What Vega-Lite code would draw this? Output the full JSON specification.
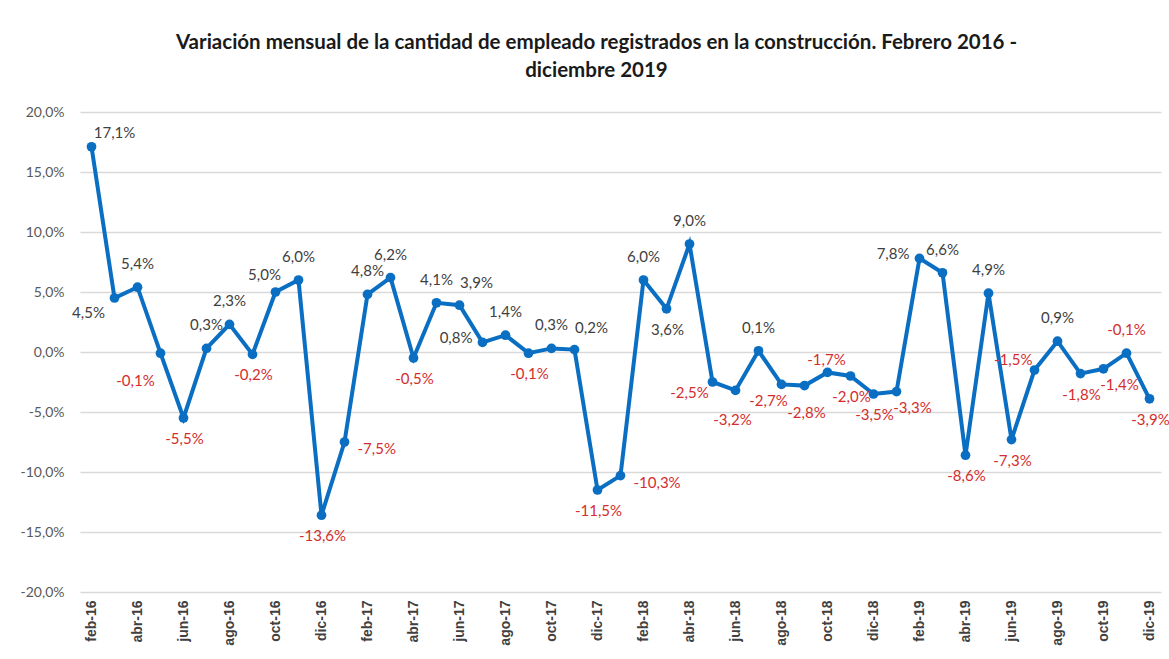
{
  "$schema": "https://vega.github.io/schema/vega-lite/v6.json",
  "width": 1081,
  "height": 480,
  "autosize": "none",
  "padding": {"left": 80, "top": 112, "right": 8, "bottom": 67},
  "background": "white",
  "config": {
    "view": {"stroke": null},
    "locale": {"number": {"decimal": ",", "thousands": ".", "grouping": [3], "currency": ["", " €"], "minus": "-"}}
  },
  "title": {
    "text": ["Variación mensual de la cantidad de empleado registrados en la construcción. Febrero 2016 -", "diciembre 2019"],
    "font": "Lato",
    "fontSize": 20.5,
    "fontWeight": "bold",
    "color": "#1a1a1a",
    "anchor": "middle",
    "dx": -24,
    "offset": 24,
    "lineHeight": 28
  },
  "data": {
    "values": [
      {"mes": "feb-16", "v": 0.171},
      {"mes": "mar-16", "v": 0.045},
      {"mes": "abr-16", "v": 0.054},
      {"mes": "may-16", "v": -0.001},
      {"mes": "jun-16", "v": -0.055},
      {"mes": "jul-16", "v": 0.003},
      {"mes": "ago-16", "v": 0.023},
      {"mes": "sep-16", "v": -0.002},
      {"mes": "oct-16", "v": 0.050},
      {"mes": "nov-16", "v": 0.060},
      {"mes": "dic-16", "v": -0.136},
      {"mes": "ene-17", "v": -0.075},
      {"mes": "feb-17", "v": 0.048},
      {"mes": "mar-17", "v": 0.062},
      {"mes": "abr-17", "v": -0.005},
      {"mes": "may-17", "v": 0.041},
      {"mes": "jun-17", "v": 0.039},
      {"mes": "jul-17", "v": 0.008},
      {"mes": "ago-17", "v": 0.014},
      {"mes": "sep-17", "v": -0.001},
      {"mes": "oct-17", "v": 0.003},
      {"mes": "nov-17", "v": 0.002},
      {"mes": "dic-17", "v": -0.115},
      {"mes": "ene-18", "v": -0.103},
      {"mes": "feb-18", "v": 0.060},
      {"mes": "mar-18", "v": 0.036},
      {"mes": "abr-18", "v": 0.090},
      {"mes": "may-18", "v": -0.025},
      {"mes": "jun-18", "v": -0.032},
      {"mes": "jul-18", "v": 0.001},
      {"mes": "ago-18", "v": -0.027},
      {"mes": "sep-18", "v": -0.028},
      {"mes": "oct-18", "v": -0.017},
      {"mes": "nov-18", "v": -0.020},
      {"mes": "dic-18", "v": -0.035},
      {"mes": "ene-19", "v": -0.033},
      {"mes": "feb-19", "v": 0.078},
      {"mes": "mar-19", "v": 0.066},
      {"mes": "abr-19", "v": -0.086},
      {"mes": "may-19", "v": 0.049},
      {"mes": "jun-19", "v": -0.073},
      {"mes": "jul-19", "v": -0.015},
      {"mes": "ago-19", "v": 0.009},
      {"mes": "sep-19", "v": -0.018},
      {"mes": "oct-19", "v": -0.014},
      {"mes": "nov-19", "v": -0.001},
      {"mes": "dic-19", "v": -0.039}
    ]
  },
  "encoding": {
    "x": {
      "field": "mes",
      "type": "ordinal",
      "sort": null,
      "scale": {"type": "point", "padding": 0.5},
      "axis": {
        "title": null,
        "values": ["feb-16","abr-16","jun-16","ago-16","oct-16","dic-16","feb-17","abr-17","jun-17","ago-17","oct-17","dic-17","feb-18","abr-18","jun-18","ago-18","oct-18","dic-18","feb-19","abr-19","jun-19","ago-19","oct-19","dic-19"],
        "labelAngle": -90,
        "labelAlign": "right",
        "labelBaseline": "middle",
        "labelFont": "Liberation Sans",
        "labelFontWeight": "bold",
        "labelFontSize": 14,
        "labelColor": "#404040",
        "labelPadding": 8,
        "domain": false,
        "ticks": false,
        "grid": false
      }
    },
    "y": {
      "field": "v",
      "type": "quantitative",
      "scale": {"domain": [-0.2, 0.2], "nice": false},
      "axis": {
        "title": null,
        "values": [-0.2, -0.15, -0.1, -0.05, 0, 0.05, 0.1, 0.15, 0.2],
        "format": ".1%",
        "labelFont": "Lato",
        "labelFontSize": 14,
        "labelColor": "#595959",
        "labelPadding": 16,
        "domain": false,
        "ticks": false,
        "grid": true,
        "gridColor": "#d9d9d9",
        "gridWidth": 1.5
      }
    }
  },
  "layer": [
    {"mark": {"type": "rule", "color": "#a6a6a6", "strokeWidth": 2}, "encoding": {"y": {"datum": 0}, "x": {"value": 11}}},
    {"mark": {"type": "line", "color": "#0a6fc2", "strokeWidth": 4, "point": {"filled": true, "size": 95, "color": "#0a6fc2", "opacity": 1}}},
    {
      "encoding": {
        "text": {"field": "v", "type": "quantitative", "format": ".1%"},
        "color": {"condition": {"test": "datum.v < 0", "value": "#d42d2d"}, "value": "#404040"}
      },
      "layer": [
        {"transform": [{"filter": {"field": "mes", "oneOf": ["abr-16","jul-16","ago-16","nov-16","feb-17","mar-17","may-17","ago-17","oct-17","feb-18","abr-18","jul-18","mar-19","may-19","ago-19","nov-19"]}}],
         "mark": {"type": "text", "font": "Lato", "fontSize": 15, "baseline": "middle", "align": "center", "dx": 0, "dy": -23}},
        {"transform": [{"filter": {"field": "mes", "oneOf": ["jun-16","sep-16","dic-16","abr-17","sep-17","dic-17","mar-18","nov-18","dic-18","abr-19","jun-19","sep-19","dic-19"]}}],
         "mark": {"type": "text", "font": "Lato", "fontSize": 15, "baseline": "middle", "align": "center", "dx": 1, "dy": 21}},
        {"transform": [{"filter": {"field": "mes", "oneOf": ["jun-18"]}}],
         "mark": {"type": "text", "font": "Lato", "fontSize": 15, "baseline": "middle", "align": "center", "dx": -3, "dy": 30}},
        {"transform": [{"filter": {"field": "mes", "oneOf": ["sep-18"]}}],
         "mark": {"type": "text", "font": "Lato", "fontSize": 15, "baseline": "middle", "align": "center", "dx": 2, "dy": 27}},
        {"transform": [{"filter": {"field": "mes", "oneOf": ["jun-17","nov-17"]}}],
         "mark": {"type": "text", "font": "Lato", "fontSize": 15, "baseline": "middle", "align": "center", "dx": 17, "dy": -22}},
        {"transform": [{"filter": {"field": "mes", "oneOf": ["feb-16"]}}],
         "mark": {"type": "text", "font": "Lato", "fontSize": 15, "baseline": "middle", "align": "center", "dx": 23, "dy": -14}},
        {"transform": [{"filter": {"field": "mes", "oneOf": ["mar-16"]}}],
         "mark": {"type": "text", "font": "Lato", "fontSize": 15, "baseline": "middle", "align": "center", "dx": -26, "dy": 15}},
        {"transform": [{"filter": {"field": "mes", "oneOf": ["may-18"]}}],
         "mark": {"type": "text", "font": "Lato", "fontSize": 15, "baseline": "middle", "align": "center", "dx": -23, "dy": 11}},
        {"transform": [{"filter": {"field": "mes", "oneOf": ["may-16"]}}],
         "mark": {"type": "text", "font": "Lato", "fontSize": 15, "baseline": "middle", "align": "center", "dx": -25, "dy": 28}},
        {"transform": [{"filter": {"field": "mes", "oneOf": ["oct-16"]}}],
         "mark": {"type": "text", "font": "Lato", "fontSize": 15, "baseline": "middle", "align": "center", "dx": -11, "dy": -17}},
        {"transform": [{"filter": {"field": "mes", "oneOf": ["oct-18"]}}],
         "mark": {"type": "text", "font": "Lato", "fontSize": 15, "baseline": "middle", "align": "center", "dx": -1, "dy": -12}},
        {"transform": [{"filter": {"field": "mes", "oneOf": ["ago-18"]}}],
         "mark": {"type": "text", "font": "Lato", "fontSize": 15, "baseline": "middle", "align": "center", "dx": -13, "dy": 17}},
        {"transform": [{"filter": {"field": "mes", "oneOf": ["ene-19","oct-19"]}}],
         "mark": {"type": "text", "font": "Lato", "fontSize": 15, "baseline": "middle", "align": "center", "dx": 16, "dy": 16}},
        {"transform": [{"filter": {"field": "mes", "oneOf": ["ene-17","ene-18"]}}],
         "mark": {"type": "text", "font": "Lato", "fontSize": 15, "baseline": "middle", "align": "left", "dx": 13, "dy": 7}},
        {"transform": [{"filter": {"field": "mes", "oneOf": ["jul-17","feb-19"]}}],
         "mark": {"type": "text", "font": "Lato", "fontSize": 15, "baseline": "middle", "align": "right", "dx": -10, "dy": -4}},
        {"transform": [{"filter": {"field": "mes", "oneOf": ["jul-19"]}}],
         "mark": {"type": "text", "font": "Lato", "fontSize": 15, "baseline": "middle", "align": "right", "dx": -2, "dy": -10}}
      ]
    }
  ]
}
